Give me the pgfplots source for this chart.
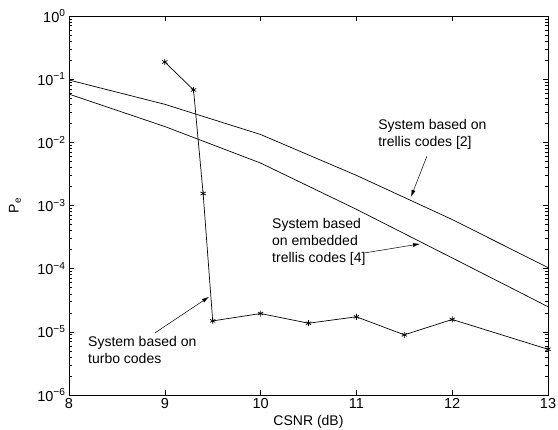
\documentclass[border=0pt]{standalone}
\usepackage{fontspec}
\setmainfont{Liberation Sans}
\usepackage{pgfplots}
\pgfplotsset{compat=1.18}
\usetikzlibrary{arrows.meta}
\begin{document}
\begin{tikzpicture}[font=\fontsize{14}{17}\selectfont]
\begin{axis}[
  scale only axis, width=479pt, height=379pt,
  xmin=8, xmax=13, ymode=log, ymin=1e-6, ymax=1,
  xtick={8,9,10,11,12,13},
  ytick={1e-6,1e-5,1e-4,1e-3,1e-2,1e-1,1},
  yticklabels={10\textsuperscript{−6},10\textsuperscript{−5},10\textsuperscript{−4},10\textsuperscript{−3},10\textsuperscript{−2},10\textsuperscript{−1},10\textsuperscript{0}},
  /pgf/number format/assume math mode=true,
  tick label style={font=\fontsize{14.5}{17}\selectfont},
  tick align=inside, major tick length=5pt, minor tick length=3pt,
  axis line style={line width=1pt},
  tick style={black, line width=0.6pt},
  xlabel={CSNR (dB)}, ylabel={P\textsubscript{e}},
  ylabel style={at={([xshift=-54pt]rel axis cs:0,0.5)}, anchor=center},
  clip=false,
]
\addplot[black, line width=0.7pt] coordinates {
 (8,0.097) (9,0.040) (10,0.0133) (11,3.0e-3) (12,6.0e-4) (13,1.04e-4)};
\addplot[black, line width=0.7pt] coordinates {
 (8,0.058) (9,0.0178) (10,4.7e-3) (11,8.7e-4) (12,1.48e-4) (13,2.5e-5)};
\addplot[black, line width=0.7pt, mark=asterisk, mark size=3pt, mark options={line width=0.7pt}] coordinates {
 (9,0.187) (9.3,0.0675) (9.4,1.55e-3) (9.5,1.49e-5) (10,1.95e-5) (10.5,1.37e-5)
 (11,1.73e-5) (11.5,8.97e-6) (12,1.57e-5) (13,5.3e-6)};
\node[anchor=base west, align=left, inner sep=0pt] at (axis cs:11.226,8.46e-3) {System based on\\trellis codes [2]};
\draw[-{Latex[length=7pt,width=4pt]}, line width=0.5pt] (axis cs:11.737,6.09e-3) -- (axis cs:11.57,1.37e-3);
\node[anchor=base west, align=left, inner sep=0pt] at (axis cs:10.119,1.236e-4) {System based\\on embedded\\trellis codes [4]};
\draw[-{Latex[length=7pt,width=4pt]}, line width=0.5pt] (axis cs:11.09,1.78e-4) -- (axis cs:11.664,2.47e-4);
\node[anchor=base west, align=left, inner sep=0pt] at (axis cs:8.198,3.12e-6) {System based on\\turbo codes};
\draw[-{Latex[length=7pt,width=4pt]}, line width=0.5pt] (axis cs:8.898,9.64e-6) -- (axis cs:9.461,3.58e-5);
\coordinate (ll) at (rel axis cs:0,0);
\coordinate (ur) at (rel axis cs:1,1);
\end{axis}
\pgfresetboundingbox
\path[use as bounding box] ([shift={(-69pt,-34pt)}]ll) rectangle ([shift={(10pt,16pt)}]ur);
\end{tikzpicture}
\end{document}
